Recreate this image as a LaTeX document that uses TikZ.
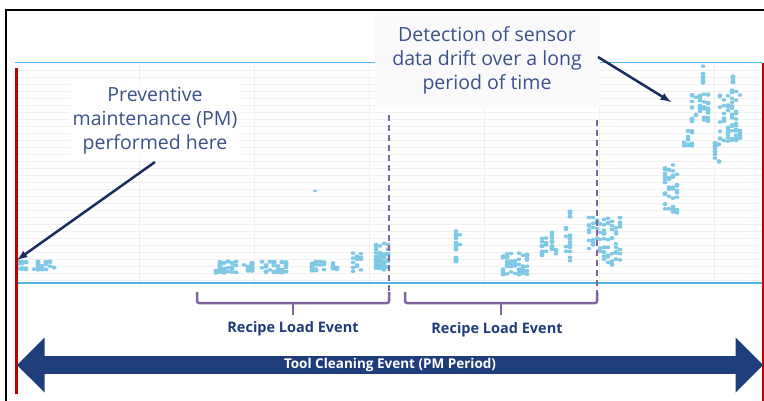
\documentclass[tikz,border=0pt]{standalone}
\usepackage{fontspec}
\setmainfont{Open Sans}
\usetikzlibrary{shapes.arrows}

\definecolor{chartblue}{HTML}{4DB6E4}
\definecolor{dotblue}{HTML}{7FC8E6}
\definecolor{notetext}{HTML}{3A5189}
\definecolor{navy}{HTML}{1F3D7A}
\definecolor{darknavy}{HTML}{1A2D5E}
\definecolor{eventpurple}{HTML}{8064A2}
\definecolor{pmred}{HTML}{C00000}

\begin{document}
\begin{tikzpicture}
[x=1pt,y=-1pt,
 gridline/.style={black!6,line width=0.8pt},
 chartline/.style={chartblue,line width=1pt},
 redline/.style={pmred,line width=3pt},
 dashline/.style={eventpurple,line width=2.5pt,dash pattern=on 6pt off 4pt},
 bracket/.style={eventpurple,line width=2.5pt,rounded corners=2pt},
 notearrow/.style={-latex,darknavy,line width=2.5pt},
 note/.style={notetext,align=center,font=\fontsize{19.5}{24}\selectfont},
 eventlabel/.style={navy,font=\bfseries\fontsize{14.5}{16}\selectfont},
 datadot/.style={dotblue}]

\useasboundingbox (0,0) rectangle (764,401);

% outer frame
\draw[black,line width=2pt] (6,401) -- (6,10) -- (764,10);

% chart grid
\foreach \gy in {70,77,...,280}{
  \draw[gridline] (16,\gy) -- (762,\gy);
}
\foreach \gx in {139,254,...,720}{
  \draw[gridline] (\gx,63) -- (\gx,286);
}
\draw[chartline] (15,63) -- (762,63);
\draw[chartblue,line width=2pt] (15,283) -- (762,283);

% sensor data
\pgfmathsetseed{17}
\foreach \xa/\xb/\ya/\yb/\n in {18/56/261/270/45, 216/240/261/273/40, 244/256/262/272/20,
  262/290/261/273/45, 312/328/261/272/20, 333/340/262/270/8, 353/365/252/272/16,
  376/392/242/270/50, 456/461/228/267/20, 503/530/252/275/50, 542/548/238/262/14,
  552/558/232/265/14, 566/574/210/262/20, 589/600/210/250/20, 600/622/217/265/55,
  665/680/162/213/42, 684/696/130/146/14, 692/712/93/122/42, 703/707/64/84/8,
  715/720/142/162/14, 720/742/90/142/60, 733/737/68/84/7}{
  \foreach \k in {1,...,\n}{
    \pgfmathsetmacro\px{\xa+4*int(rnd*(\xb-\xa)/4)}
    \pgfmathsetmacro\py{\ya+rnd*(\yb-\ya)}
    \fill[datadot] (\px,\py) ellipse (2.4pt and 1.8pt);
  }
}
\fill[datadot] (315,191) ellipse (2pt and 1.4pt);

% PM lines
\draw[redline] (16,68) -- (16,394);
\draw[pmred,line width=1.5pt] (763,63) -- (763,401);

% recipe load events
\draw[dashline] (389,115) -- (389,292);
\draw[dashline] (597,120) -- (597,292);

\coordinate (rla) at (197,292);
\coordinate (rlb) at (389,292);
\coordinate (rlc) at (405,292);
\coordinate (rld) at (597,292);
\draw[bracket] (rla) -- ++(0,11) -| (rlb);
\draw[bracket] (rlc) -- ++(0,11) -| (rld);
\draw[bracket] (293,303) -- (293,315);
\draw[bracket] (501,303) -- (501,315);
\node[eventlabel] (recipe1) at (293,329) {Recipe Load Event};
\node[eventlabel] (recipe2) at (497,330) {Recipe Load Event};

% PM period
\node[double arrow,fill=navy,text=white,minimum height=746pt,minimum width=55pt,
  double arrow head extend=14.5pt,inner sep=0pt,font=\bfseries\fontsize{13.5}{15}\selectfont]
  (period) at (390,365) {Tool Cleaning Event (PM Period)};

% notes
\node[note,fill=white,fill opacity=0.8,text opacity=1] (pmnote) at (155,121)
  {Preventive\\maintenance (PM)\\performed here};
\coordinate (pmpoint) at (17,260);
\draw[notearrow] (155,162) -- (pmpoint);

\node[note,fill=black!2,minimum width=225pt,minimum height=94pt] (driftnote) at (487,60)
  {Detection of sensor\\data drift over a long\\period of time};
\coordinate (driftpoint) at (671,102);
\draw[notearrow] (598,57) -- (driftpoint);

\end{tikzpicture}
\end{document}
